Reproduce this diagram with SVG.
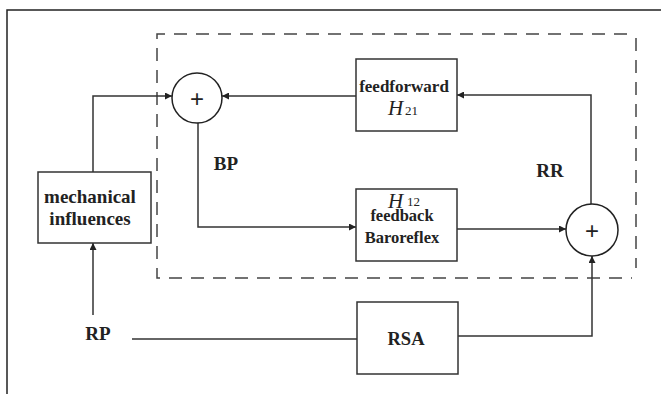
<svg xmlns="http://www.w3.org/2000/svg" width="661" height="394" viewBox="0 0 661 394">
<defs>
<marker id="arr" viewBox="0 0 10 10" refX="10" refY="5" markerWidth="9" markerHeight="7" markerUnits="userSpaceOnUse" orient="auto">
<path d="M0,0 L10,5 L0,10 z" fill="#222"/>
</marker>
<style>
.box{fill:#fff;stroke:#333;stroke-width:1.5}
.sum{fill:#fff;stroke:#222;stroke-width:1.5}
.line{fill:none;stroke:#333;stroke-width:1.5}
.arrow{fill:none;stroke:#333;stroke-width:1.5;marker-end:url(#arr)}
.dash{fill:none;stroke:#444;stroke-width:1.5;stroke-dasharray:13 9}
.t{font-family:"Liberation Serif","Times New Roman",serif;font-weight:bold;fill:#222;text-anchor:middle}
.h{font-family:"Liberation Serif","Times New Roman",serif;font-style:italic;fill:#222}
.sub{font-family:"Liberation Serif","Times New Roman",serif;fill:#222}
.plus{font-family:"Liberation Sans",Arial,sans-serif;font-size:24px;fill:#222;text-anchor:middle}
</style>
</defs>
<rect width="661" height="394" fill="#fff"/>
<path d="M7,394 V10 H661" fill="none" stroke="#222" stroke-width="1.5"/>
<g id="boundary">
<path class="dash" d="M627,34 H157 V278 H632"/>
<path class="dash" d="M636,38 V268"/>
</g>
<g id="connectors">
<path class="arrow" d="M93,172 V96 H172"/>
<path class="arrow" d="M356,96 H222"/>
<path class="arrow" d="M591,204 V95 H457"/>
<path class="arrow" d="M198,123 V227 H356"/>
<path class="arrow" d="M457,229 H566"/>
<path class="arrow" d="M93,315 V243"/>
<path class="line" d="M132,339 H357"/>
<path class="arrow" d="M457,336 H592 V256"/>
</g>
<g id="sum1">
<circle class="sum" cx="197" cy="98" r="25"/>
<text class="plus" x="197" y="106.5">+</text>
</g>
<g id="sum2">
<circle class="sum" cx="592" cy="230" r="26"/>
<text class="plus" x="592" y="238.5">+</text>
</g>
<g id="feedforward">
<rect class="box" x="356" y="59" width="101" height="72"/>
<text class="t" x="404" y="92" font-size="17">feedforward</text>
<text class="h" x="388" y="115" font-size="21">H</text>
<text class="sub" x="405" y="115" font-size="13">21</text>
</g>
<g id="feedback">
<rect class="box" x="356" y="189" width="101" height="72"/>
<text class="h" x="388" y="208" font-size="21">H</text>
<text class="sub" x="407" y="206" font-size="13">12</text>
<text class="t" x="402" y="221" font-size="16.5">feedback</text>
<text class="t" x="402" y="243" font-size="16.5">Baroreflex</text>
</g>
<g id="mechanical">
<rect class="box" x="38" y="172" width="113" height="71"/>
<text class="t" x="90" y="203" font-size="19">mechanical</text>
<text class="t" x="90" y="225" font-size="19">influences</text>
</g>
<g id="rsa">
<rect class="box" x="357" y="302" width="101" height="72"/>
<text class="t" x="406" y="345" font-size="18.5">RSA</text>
</g>
<g id="labels">
<text class="t" x="98" y="340" font-size="19">RP</text>
<text class="t" x="226" y="170" font-size="19">BP</text>
<text class="t" x="550" y="177" font-size="19">RR</text>
</g>
</svg>
